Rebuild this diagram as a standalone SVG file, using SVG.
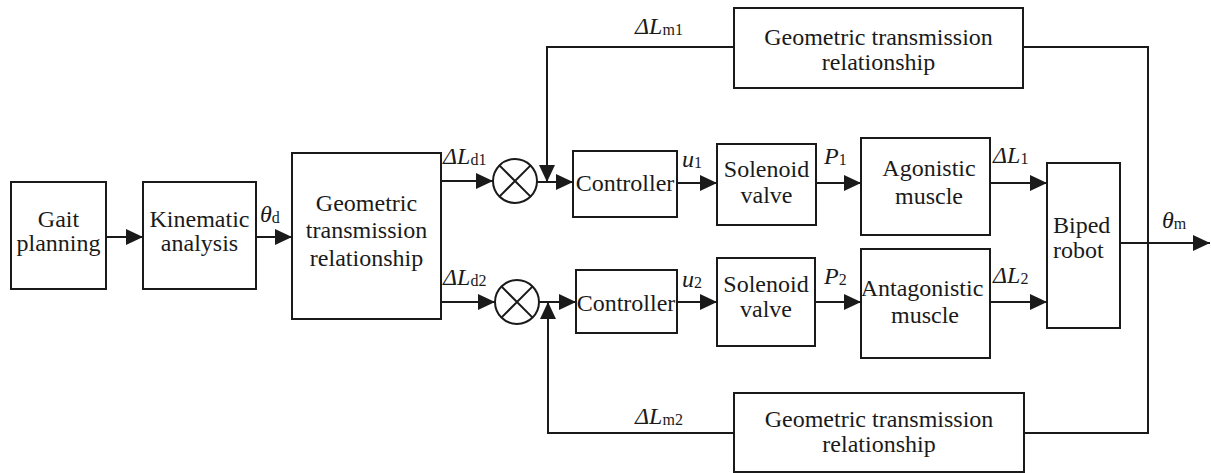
<svg xmlns="http://www.w3.org/2000/svg" width="1211" height="473" viewBox="0 0 1211 473" font-family="'Liberation Serif', Tinos, 'Times New Roman', 'DejaVu Serif', serif">
  <defs>
    <marker id="arrow" markerUnits="userSpaceOnUse" viewBox="0 0 17 16" refX="17" refY="8" markerWidth="17" markerHeight="16" orient="auto">
      <path d="M0,0 L17,8 L0,16 Z" fill="#1a1a1a"/>
    </marker>
    <style>
      .box { fill: #ffffff; stroke: #1a1a1a; stroke-width: 2; }
      .wire { fill: none; stroke: #1a1a1a; stroke-width: 2; }
      .sum { fill: #ffffff; stroke: #1a1a1a; stroke-width: 2; }
      text { font-family: 'Liberation Serif', Tinos, 'Times New Roman', 'DejaVu Serif', serif; }
      .lbl { font-size: 24px; fill: #1a1a1a; }
      .c { text-anchor: middle; }
      .math { font-size: 24px; font-style: italic; fill: #1a1a1a; }
      .sub { font-style: normal; font-size: 16px; }
    </style>
  </defs>

  <rect width="1211" height="473" fill="#ffffff"/>

  <!-- connectors -->
  <g id="connectors">
    <path class="wire" d="M106,237 H143" marker-end="url(#arrow)"/>
    <path class="wire" d="M256,237 H292" marker-end="url(#arrow)"/>
    <path class="wire" d="M441,181 H493" marker-end="url(#arrow)"/>
    <path class="wire" d="M441,302 H495" marker-end="url(#arrow)"/>
    <path class="wire" d="M537,182 H573" marker-end="url(#arrow)"/>
    <path class="wire" d="M539,302 H576" marker-end="url(#arrow)"/>
    <path class="wire" d="M677,183 H717" marker-end="url(#arrow)"/>
    <path class="wire" d="M677,302 H717" marker-end="url(#arrow)"/>
    <path class="wire" d="M816,183 H861" marker-end="url(#arrow)"/>
    <path class="wire" d="M815,302 H861" marker-end="url(#arrow)"/>
    <path class="wire" d="M990,183 H1047" marker-end="url(#arrow)"/>
    <path class="wire" d="M990,302 H1047" marker-end="url(#arrow)"/>
    <path class="wire" d="M1120,243 H1210" marker-end="url(#arrow)"/>
    <!-- feedback branches -->
    <path class="wire" d="M1148,243 V47 H1023"/>
    <path class="wire" d="M734,47 H547 V182" marker-end="url(#arrow)"/>
    <path class="wire" d="M1148,243 V433 H1024"/>
    <path class="wire" d="M734,433 H548 V302" marker-end="url(#arrow)"/>
  </g>

  <!-- signal labels -->
  <g id="signals">
    <text class="math" x="260" y="222">θ<tspan class="sub" dy="1">d</tspan></text>
    <text class="math" x="443" y="164">ΔL<tspan class="sub" dy="1">d1</tspan></text>
    <text class="math" x="443" y="285">ΔL<tspan class="sub" dy="1">d2</tspan></text>
    <text class="math" x="682" y="167">u<tspan class="sub" dy="1">1</tspan></text>
    <text class="math" x="682" y="287">u<tspan class="sub" dy="1">2</tspan></text>
    <text class="math" x="824" y="164">P<tspan class="sub" dy="1">1</tspan></text>
    <text class="math" x="824" y="284">P<tspan class="sub" dy="1">2</tspan></text>
    <text class="math" x="993" y="163">ΔL<tspan class="sub" dy="1">1</tspan></text>
    <text class="math" x="993" y="283">ΔL<tspan class="sub" dy="1">2</tspan></text>
    <text class="math" x="1162" y="228">θ<tspan class="sub" dy="1">m</tspan></text>
    <text class="math" x="635" y="34">ΔL<tspan class="sub" dy="1">m1</tspan></text>
    <text class="math" x="635" y="424">ΔL<tspan class="sub" dy="1">m2</tspan></text>
  </g>

  <g id="gait">
    <rect class="box" x="11" y="182" width="95" height="107"/>
    <text class="lbl c" x="58.5" y="227">Gait</text>
    <text class="lbl c" x="58.5" y="251">planning</text>
  </g>

  <g id="kinematic">
    <rect class="box" x="143" y="182" width="113" height="107"/>
    <text class="lbl c" x="199.5" y="227">Kinematic</text>
    <text class="lbl c" x="199.5" y="251">analysis</text>
  </g>

  <g id="geometric-main">
    <rect class="box" x="292" y="153" width="149" height="166"/>
    <text class="lbl c" x="366.5" y="211">Geometric</text>
    <text class="lbl c" x="366.5" y="238">transmission</text>
    <text class="lbl c" x="366.5" y="266">relationship</text>
  </g>

  <g id="sum1">
    <circle class="sum" cx="515" cy="181" r="22"/>
    <path class="wire" d="M499.4,165.4 L530.6,196.6 M530.6,165.4 L499.4,196.6"/>
  </g>

  <g id="sum2">
    <circle class="sum" cx="517" cy="302" r="22"/>
    <path class="wire" d="M501.4,286.4 L532.6,317.6 M532.6,286.4 L501.4,317.6"/>
  </g>

  <g id="controller1">
    <rect class="box" x="573" y="151" width="104" height="66"/>
    <text class="lbl c" x="625" y="191">Controller</text>
  </g>

  <g id="controller2">
    <rect class="box" x="576" y="270" width="101" height="63"/>
    <text class="lbl c" x="626" y="311">Controller</text>
  </g>

  <g id="valve1">
    <rect class="box" x="717" y="144" width="99" height="81"/>
    <text class="lbl c" x="766.5" y="177">Solenoid</text>
    <text class="lbl c" x="766.5" y="203">valve</text>
  </g>

  <g id="valve2">
    <rect class="box" x="717" y="258" width="98" height="88"/>
    <text class="lbl c" x="766" y="292">Solenoid</text>
    <text class="lbl c" x="766" y="317">valve</text>
  </g>

  <g id="agonistic">
    <rect class="box" x="861" y="138" width="129" height="97"/>
    <text class="lbl c" x="929" y="176">Agonistic</text>
    <text class="lbl c" x="929" y="204">muscle</text>
  </g>

  <g id="antagonistic">
    <rect class="box" x="861" y="249" width="129" height="109"/>
    <text class="lbl c" x="922" y="296">Antagonistic</text>
    <text class="lbl c" x="925" y="323">muscle</text>
  </g>

  <g id="biped">
    <rect class="box" x="1047" y="163" width="73" height="165"/>
    <text class="lbl" x="1053" y="233">Biped</text>
    <text class="lbl" x="1053" y="258">robot</text>
  </g>

  <g id="geometric-top">
    <rect class="box" x="734" y="8" width="289" height="80"/>
    <text class="lbl c" x="878.5" y="45">Geometric transmission</text>
    <text class="lbl c" x="878.5" y="70">relationship</text>
  </g>

  <g id="geometric-bottom">
    <rect class="box" x="734" y="393" width="290" height="79"/>
    <text class="lbl c" x="879" y="427">Geometric transmission</text>
    <text class="lbl c" x="879" y="452">relationship</text>
  </g>
</svg>
